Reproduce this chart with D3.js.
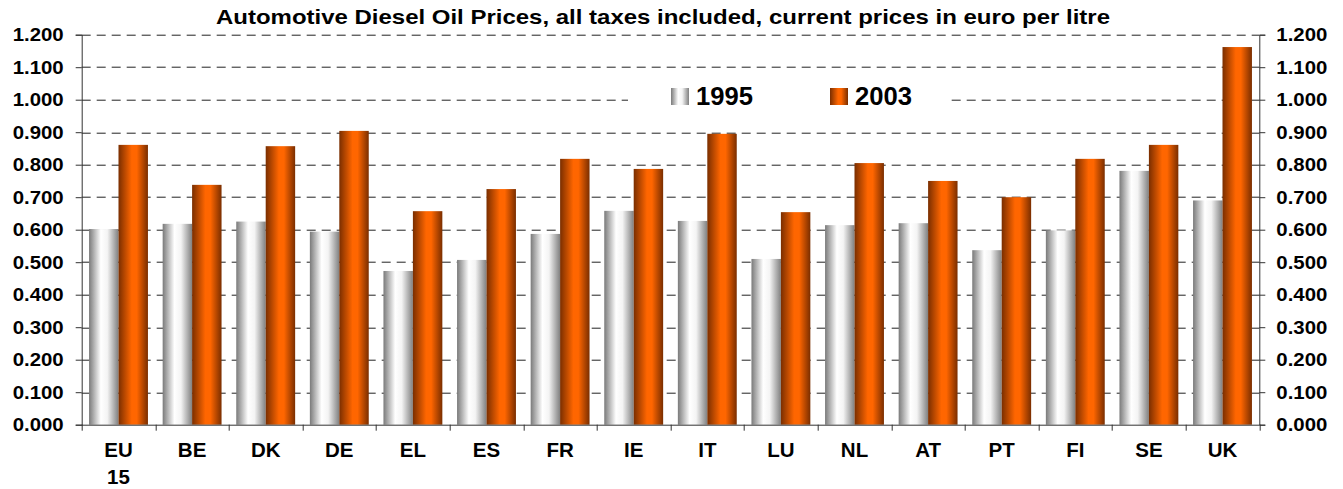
<!DOCTYPE html>
<html>
<head>
<meta charset="utf-8">
<script src="https://cdn.jsdelivr.net/npm/d3@7"></script>
<style>
  body { margin: 0; background: #fff; }
  text { font-family: "Liberation Sans", Arial, sans-serif; font-weight: bold; }
</style>
</head>
<body>
<div id="chart"></div>
<script>
// data
var countries = ["EU 15", "BE", "DK", "DE", "EL", "ES", "FR", "IE", "IT", "LU", "NL", "AT", "PT", "FI", "SE", "UK"];
var years = ["1995", "2003"];
var prices1995 = [0.602, 0.618, 0.625, 0.594, 0.473, 0.507, 0.587, 0.658, 0.627, 0.510, 0.614, 0.620, 0.537, 0.598, 0.781, 0.690];
var prices2003 = [0.861, 0.738, 0.857, 0.904, 0.657, 0.725, 0.818, 0.787, 0.895, 0.654, 0.805, 0.750, 0.700, 0.818, 0.861, 1.162];
var yTicks = [0, 0.1, 0.2, 0.3, 0.4, 0.5, 0.6, 0.7, 0.8, 0.9, 1.0, 1.1, 1.2];

var width = 1343, height = 489;
var margins = { top: 34.7, right: 83.7, bottom: 64.3, left: 81.7 };
var chartWidth = width - margins.left - margins.right;
var chartHeight = height - margins.top - margins.bottom;

var svg = d3.select("#chart").append("svg")
    .attr("width", width)
    .attr("height", height);

// bar gradients
var defs = svg.append("defs");
function addGradient(id, stops) {
    var g = defs.append("linearGradient").attr("id", id)
        .attr("x1", "0%").attr("x2", "100%").attr("y1", "0%").attr("y2", "0%");
    stops.forEach(function (s) {
        g.append("stop").attr("offset", s[0]).attr("stop-color", s[1]);
    });
}
addGradient("grad1995", [["0%", "#7a7a7a"], ["40%", "#ffffff"], ["62%", "#f4f4f4"], ["100%", "#808080"]]);
addGradient("grad2003", [["0%", "#7a2e00"], ["45%", "#ff6600"], ["62%", "#ff6600"], ["100%", "#7a2e00"]]);

var chartGroup = svg.append("g")
    .attr("transform", `translate(${margins.left}, ${margins.top})`);

var x0 = d3.scaleBand().domain(countries).range([0, chartWidth]).paddingInner(0.2).paddingOuter(0.1);
var x1 = d3.scaleBand().domain(years).range([0, x0.bandwidth()]);
var y = d3.scaleLinear().domain([0, 1.2]).range([chartHeight, 0]);

// gridlines
chartGroup.selectAll(".grid")
    .data(yTicks.filter(d => d > 0))
    .enter()
    .append("line")
    .attr("x1", 0)
    .attr("x2", chartWidth)
    .attr("y1", d => Math.round(y(d)) + 0.5)
    .attr("y2", d => Math.round(y(d)) + 0.5)
    .attr("stroke", "#222")
    .attr("stroke-width", 1)
    .attr("stroke-dasharray", "9,6");

// bars
var table = countries.map((c, i) => ({ c: c, v: [prices1995[i], prices2003[i]] }));
var groups = chartGroup.selectAll(".cat")
    .data(table)
    .enter()
    .append("g")
    .attr("transform", d => `translate(${x0(d.c)}, 0)`);

groups.selectAll("rect")
    .data(d => years.map((yr, j) => ({ yr: yr, v: d.v[j] })))
    .enter()
    .append("rect")
    .attr("x", d => x1(d.yr))
    .attr("width", x1.bandwidth())
    .attr("y", d => y(d.v))
    .attr("height", d => chartHeight - y(d.v))
    .attr("fill", d => `url(#grad${d.yr})`);

// axes (labels are slightly stretched in the original)
var leftAxis = d3.axisLeft(y).tickValues(yTicks).tickFormat(d3.format(".3f")).tickSize(6).tickPadding(12);
var rightAxis = d3.axisRight(y).tickValues(yTicks).tickFormat(d3.format(".3f")).tickSize(6).tickPadding(11);

var la = chartGroup.append("g").call(leftAxis);
var ra = chartGroup.append("g").attr("transform", `translate(${chartWidth}, 0)`).call(rightAxis);
[la, ra].forEach(function (a) {
    a.select(".domain").attr("stroke", "#333");
    a.selectAll(".tick line").attr("stroke", "#333");
    a.selectAll("text").attr("font-size", "18.5px").attr("fill", "#000")
        .attr("textLength", 51).attr("lengthAdjust", "spacingAndGlyphs")
        .style("font-family", "'Liberation Sans', Arial, sans-serif").style("font-weight", "bold");
});

// bottom axis line with ticks at the category boundaries
var boundaries = countries.map(c => x0(c) - x0.step() * x0.paddingInner() / 2).concat([chartWidth]);
chartGroup.append("line")
    .attr("x1", 0).attr("x2", chartWidth)
    .attr("y1", chartHeight + 0.5).attr("y2", chartHeight + 0.5)
    .attr("stroke", "#333");
chartGroup.selectAll(".btick")
    .data(boundaries)
    .enter()
    .append("line")
    .attr("x1", d => Math.round(d) + 0.5).attr("x2", d => Math.round(d) + 0.5)
    .attr("y1", chartHeight).attr("y2", chartHeight + 6)
    .attr("stroke", "#333");

// category labels
var labels = chartGroup.selectAll(".catText")
    .data(countries)
    .enter()
    .append("text")
    .attr("x", d => x0(d) + x0.bandwidth() / 2)
    .attr("y", chartHeight + 32)
    .attr("text-anchor", "middle")
    .attr("font-size", "20.5px");
labels.each(function (d) {
    var parts = d.split(" ");
    var t = d3.select(this);
    parts.forEach(function (p, i) {
        t.append("tspan")
            .attr("x", x0(d) + x0.bandwidth() / 2)
            .attr("dy", i === 0 ? 0 : 27)
            .text(p);
    });
});

// legend
var legend = svg.append("g");
legend.append("rect")
    .attr("x", 628).attr("y", 80).attr("width", 320).attr("height", 38)
    .attr("fill", "#fff");
var legendItems = [{ yr: years[0], x: 671 }, { yr: years[1], x: 830 }];
legendItems.forEach(function (d) {
    legend.append("rect")
        .attr("x", d.x).attr("y", 88).attr("width", 18).attr("height", 17)
        .attr("fill", `url(#grad${d.yr})`);
    legend.append("text")
        .attr("x", d.x + 25).attr("y", 105)
        .attr("font-size", "25px")
        .attr("textLength", 57).attr("lengthAdjust", "spacingAndGlyphs")
        .text(d.yr);
});

// title
svg.append("text")
    .attr("x", 216)
    .attr("y", 24)
    .attr("font-size", "21px")
    .attr("textLength", 894)
    .attr("lengthAdjust", "spacingAndGlyphs")
    .text("Automotive Diesel Oil Prices, all taxes included, current prices in euro per litre");
</script>
</body>
</html>
